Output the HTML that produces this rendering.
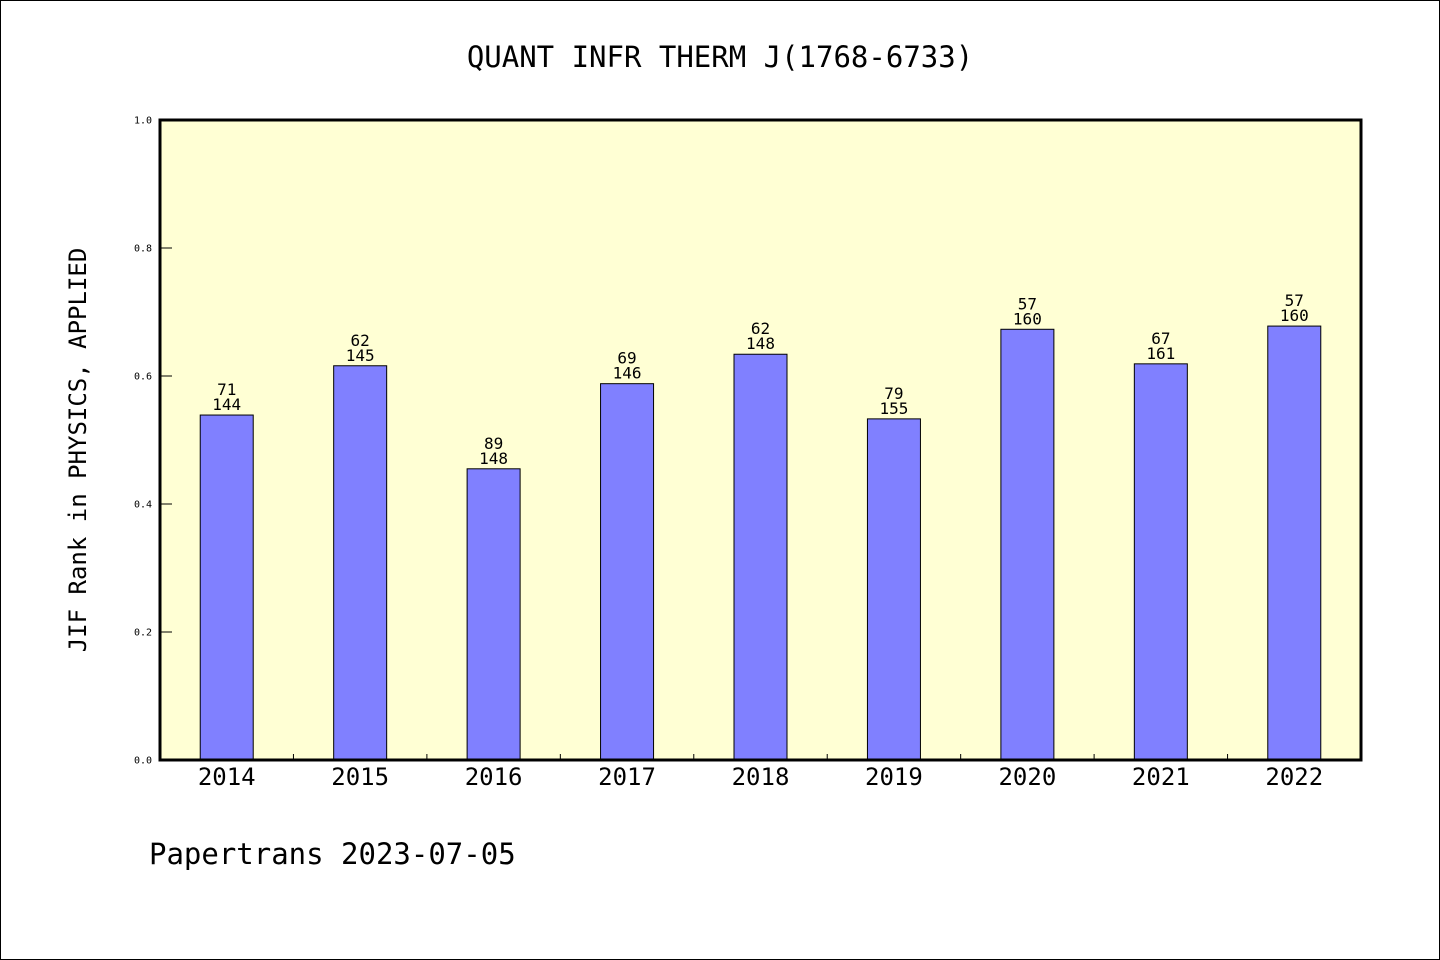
<!DOCTYPE html>
<html><head><meta charset="utf-8">
<style>
html,body{margin:0;padding:0;background:#fff;}
svg{display:block;font-family:"DejaVu Sans Mono","Liberation Mono",monospace;}
</style></head>
<body>
<svg id="chart" width="1440" height="960" viewBox="0 0 1440 960">
  <rect x="0.5" y="0.5" width="1439" height="959" fill="#fff" stroke="#000" stroke-width="1"/>
  <text x="720" y="67" font-size="29" text-anchor="middle">QUANT INFR THERM J(1768-6733)</text>
  <rect x="160" y="120" width="1201" height="640" fill="#ffffd4"/>
  <g id="bars"></g>
  <g id="yaxis"></g>
  <g id="xaxis"></g>
  <rect x="160" y="120" width="1201" height="640" fill="none" stroke="#000" stroke-width="3"/>
  <text transform="translate(86,450) rotate(-90)" font-size="24" text-anchor="middle">JIF Rank in PHYSICS, APPLIED</text>
  <text x="149" y="864" font-size="29">Papertrans 2023-07-05</text>
</svg>
<script>
const categories = ["2014","2015","2016","2017","2018","2019","2020","2021","2022"];
const values = [0.539,0.616,0.455,0.588,0.634,0.533,0.673,0.619,0.678];
const ranks = ["71","62","89","69","62","79","57","67","57"];
const totals = ["144","145","148","146","148","155","160","161","160"];
const yTicks = [0,0.2,0.4,0.6,0.8,1.0];
const yTickLabels = ["0.0","0.2","0.4","0.6","0.8","1.0"];

const NS="http://www.w3.org/2000/svg";
const L=160,R=1361,T=120,B=760;
const band=(R-L)/categories.length;
const xc=i=>L+band*(i+0.5);
const y=v=>B-(B-T)*v;
function mk(tag,attrs,parent,text){const e=document.createElementNS(NS,tag);for(const k in attrs)e.setAttribute(k,attrs[k]);if(text!==undefined)e.textContent=text;parent.appendChild(e);return e;}
const bars=document.getElementById('bars'),ya=document.getElementById('yaxis'),xa=document.getElementById('xaxis');
const bw=53;
values.forEach((v,i)=>{
  const r=mk('rect',{x:xc(i)-bw/2,y:y(v),width:bw,height:B-y(v),fill:'#8080ff',stroke:'#000','stroke-width':1},bars);
  
  
  const t1=mk('text',{x:xc(i),y:y(v)-20,'font-size':16,'text-anchor':'middle'},bars,ranks[i]);
  
  
  const t2=mk('text',{x:xc(i),y:y(v)-5,'font-size':16,'text-anchor':'middle'},bars,totals[i]);
  
  
  const xl=mk('text',{x:xc(i),y:785,'font-size':24,'text-anchor':'middle'},xa,categories[i]);
  
  
  if(i>0){const tk=mk('line',{x1:L+band*i,x2:L+band*i,y1:B,y2:B-6,stroke:'#000','stroke-width':1},xa);
  
  }
});
yTicks.forEach((v,i)=>{
  const tk=mk('line',{x1:L,x2:L+12,y1:y(v),y2:y(v),stroke:'#000','stroke-width':1},ya);
  
  
  const tl=mk('text',{x:152,y:y(v)+3.5,'font-size':10,'text-anchor':'end'},ya,yTickLabels[i]);
  
  
});
</script>
</body></html>
